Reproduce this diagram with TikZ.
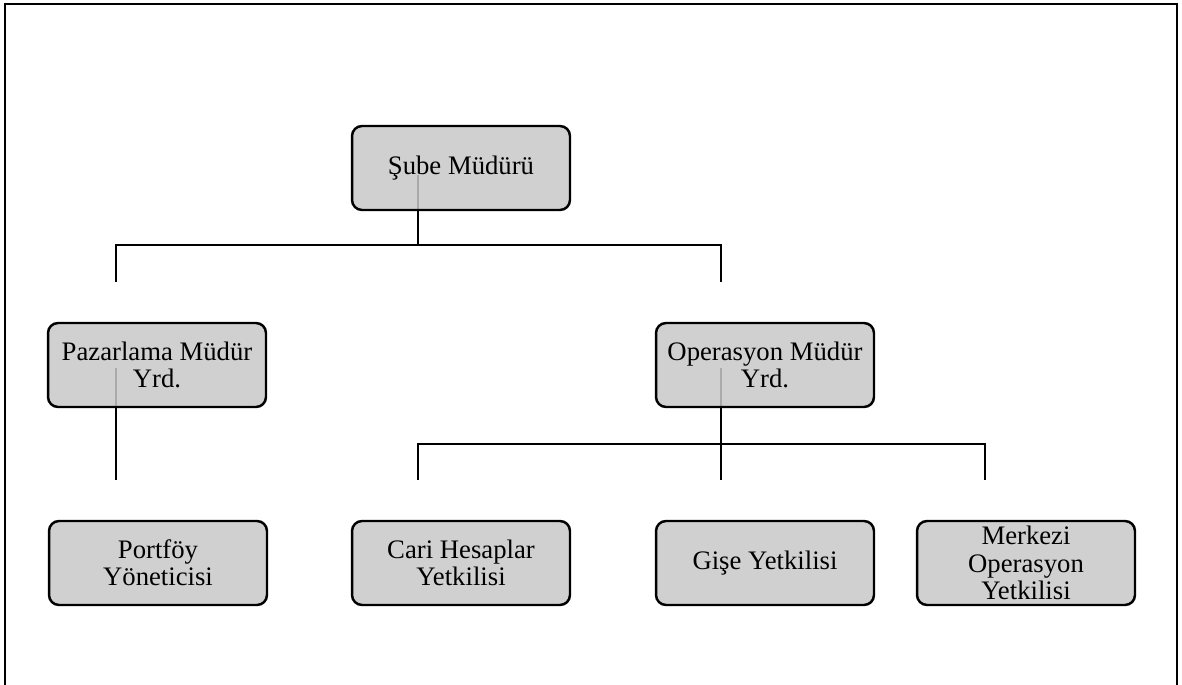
\documentclass[tikz,border=0pt]{standalone}
\usepackage{fontspec}
\setmainfont{Liberation Serif}
\usepackage{tikz}
\usetikzlibrary{positioning, calc, backgrounds}
\definecolor{boxgray}{HTML}{C8C8C8}
\tikzset{box/.style = {rectangle, rounded corners=0.2cm, draw=black, line width=1.4pt,
    fill=boxgray, fill opacity=0.85, text opacity=1,
    minimum width=4.36cm, minimum height=1.68cm, align=center, inner sep=0pt,
    font=\fontsize{15.2}{15.6}\selectfont}}
\tikzset{link/.style = {draw=black, line width=1.4pt}}

\begin{document}
\begin{tikzpicture}[x=0.02cm, y=-0.02cm]
        \useasboundingbox (0,0) rectangle (1182,685);
        \begin{scope}
            \clip (0,0) rectangle (1182,685);
            \draw [line width=1.4pt] (5,4) rectangle (1177,700);
        \end{scope}

        \node [box] (sube)    at (461,168) {Şube Müdürü};
        \node [box] (pazar)   at (157,365) {Pazarlama Müdür\\Yrd.};
        \node [box] (opr)     at (765,365) {Operasyon Müdür\\Yrd.};
        \node [box] (portfoy) at (158,563) {Portföy\\Yöneticisi};
        \node [box] (cari)    at (461,563) {Cari Hesaplar\\Yetkilisi};
        \node [box] (gise)    at (765,563) {Gişe Yetkilisi};
        \node [box] (merkezi) at (1026,563) {Merkezi\\Operasyon\\Yetkilisi};

        % free ends of the connectors
        \coordinate (S) at (418,245);
        \coordinate (A) at (116,282);
        \coordinate (B) at (721,282);
        \coordinate (P) at (116,480);
        \coordinate (O) at (721,444);
        \coordinate (C) at (418,480);
        \coordinate (G) at (721,480);
        \coordinate (M) at (985,480);

        \begin{scope}[on background layer]
            \draw [link] ($(S |- sube.center)+(0,7)$) -- (S);
            \draw [link] (A) |- (S) -| (B);

            \draw [link] ($(P |- pazar.center)+(0,3)$) -- (P);

            \draw [link] ($(O |- opr.center)+(0,3)$) -- (O);
            \draw [link] (C) |- (O) -| (M);
            \draw [link] (O) -- (G);
        \end{scope}
    \end{tikzpicture}
\end{document}
